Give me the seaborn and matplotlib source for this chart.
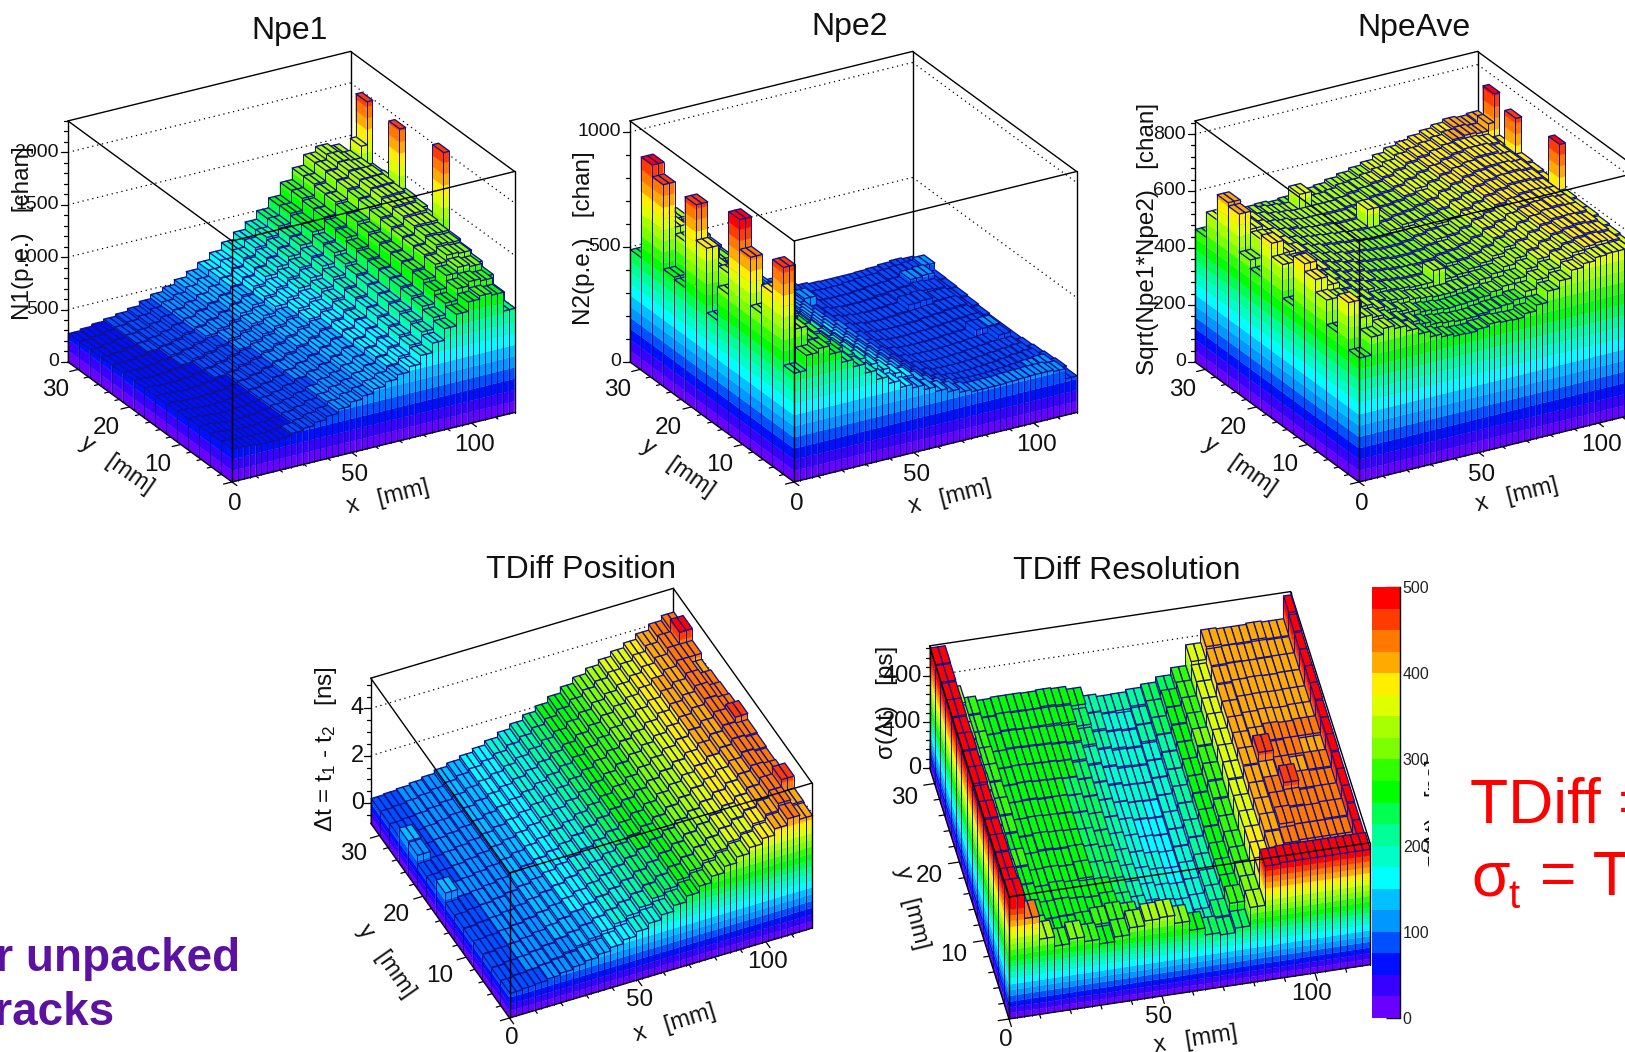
import numpy as np
import matplotlib
matplotlib.use("Agg")
import matplotlib.pyplot as plt
import seaborn as sns
from matplotlib.colors import ListedColormap
from matplotlib.lines import Line2D
from matplotlib.transforms import Bbox, IdentityTransform
from mpl_toolkits.mplot3d import proj3d
from mpl_toolkits.mplot3d.art3d import Line3DCollection, Poly3DCollection

W, H = 1625, 1052
XMAX, YMAX = 118.0, 32.0
NAVY = "#10108a"

BAND_COLORS = ["#6a00ff", "#3800ff", "#0010ff", "#0050ff", "#0098ff", "#00c0ff", "#00ffff", "#00ffc8",
               "#00ff96", "#00ff50", "#00ff00", "#30ff00", "#7cff00", "#a8ff00", "#dfff00", "#ffee00",
               "#ffaa00", "#ff7800", "#ff3c00", "#ff0000"]

# rows run from y=0 (front) to y=32 (back), one value per 2 x bins
NPE1 = [
    [320,310,300,300,310,330,350,380,410,450,490,520,560,600,640,690,770,860,970,1080,1170,1200,1180,1000],
    [315,305,295,295,305,320,345,370,405,440,480,515,555,600,650,710,790,890,1000,1110,1220,1260,1240,1080],
    [310,300,290,290,300,315,340,365,400,435,475,510,555,605,660,725,810,910,1030,1150,1270,1320,1300,1170],
    [305,295,285,285,295,310,335,360,395,430,470,510,555,610,670,740,825,930,1050,1180,1300,1360,1350,1220],
    [300,290,280,285,295,310,335,360,395,435,475,515,565,620,680,750,840,945,1065,1195,1315,1380,1370,1250],
    [295,285,280,285,295,315,340,365,400,440,480,525,575,630,690,760,850,955,1075,1205,1325,1395,1390,1280],
    [290,285,280,285,300,320,345,375,410,450,495,540,590,645,705,775,865,965,1085,1215,1335,1410,1410,1310],
    [290,280,280,290,305,330,355,390,425,465,510,555,610,665,725,795,880,980,1100,1230,1350,1425,1430,1340],
    [285,280,285,295,315,340,370,405,440,485,530,575,630,690,750,820,905,1005,1120,1250,1365,1440,1445,1365],
    [285,280,290,305,325,355,385,420,460,505,550,600,660,715,780,850,935,1035,1150,1275,1385,1455,1460,1380],
    [280,285,295,315,340,365,400,440,480,525,575,625,680,735,800,870,950,1050,1165,1290,1395,1465,1470,1390],
    [280,285,305,325,350,380,415,450,490,535,585,640,700,765,830,900,980,1080,1195,1310,1410,1470,1475,1400],
    [275,290,310,330,350,380,420,455,500,545,595,650,710,775,840,910,990,1085,1200,1315,1420,1480,1470,1390],
    [275,290,310,330,350,380,420,460,500,545,595,655,720,790,860,930,1010,1105,1220,1330,1430,1485,1465,1370],
    [275,290,310,330,350,375,415,455,495,540,590,650,715,785,855,925,1005,1100,1220,1330,1430,1480,1450,1350],
]
NPE1_SPIKES = [(6, 47, 2040), (10, 47, 1960), (13, 47, 1990), (13, 46, 1580)]
NPE2 = [
    [475,540,557,520,472,440,400,360,330,300,285,265,245,230,215,205,205,205,208,210,212,212,205,161],
    [900,620,560,530,490,450,420,385,350,320,295,265,235,210,195,185,180,180,182,185,190,195,200,170],
    [755,600,560,540,490,450,420,385,345,315,285,255,225,195,180,170,165,165,168,172,178,185,190,165],
    [630,640,570,520,480,445,415,380,340,310,280,250,215,190,170,160,158,158,160,165,170,175,180,160],
    [840,600,580,530,490,440,410,375,335,305,275,240,210,180,165,155,152,152,155,160,165,170,172,155],
    [969,660,590,540,500,450,410,370,330,300,270,235,205,175,160,152,150,150,152,155,160,165,190,150],
    [608,620,610,560,500,450,405,365,325,295,265,230,200,172,158,150,148,148,150,155,158,190,195,150],
    [460,650,620,570,510,450,405,365,325,292,260,227,197,170,158,150,148,150,152,155,160,165,170,150],
    [740,640,620,580,515,455,410,365,325,290,258,225,195,170,158,152,150,150,152,158,162,168,170,155],
    [894,680,630,590,520,460,410,365,323,290,255,225,195,170,160,152,150,152,155,160,165,172,175,160],
    [500,640,640,590,525,460,410,365,320,288,255,223,193,170,160,155,152,155,160,185,190,175,175,165],
    [510,650,640,600,530,465,415,365,320,285,252,220,190,170,160,155,155,158,162,170,175,185,180,168],
    [877,680,660,610,535,470,415,365,320,285,252,220,230,170,160,158,158,162,168,172,178,200,205,170],
    [928,700,670,610,540,470,415,365,315,282,250,220,193,172,162,160,160,165,170,172,180,185,190,200],
    [490,600,640,600,530,460,405,355,310,275,245,215,185,168,158,152,150,150,150,152,155,160,165,160],
]
NPE2_SPIKES = []
NPE_AVE = [
    [437,500,520,510,491,470,450,440,432,430,436,444,440,438,450,470,509,535,562,575,586,590,590,560],
    [603,540,530,510,495,480,465,455,450,445,445,450,455,460,470,490,520,545,570,585,595,600,595,570],
    [470,560,540,520,505,490,480,470,465,460,462,465,470,480,490,505,530,555,575,590,600,605,600,575],
    [556,550,540,525,510,500,495,485,480,475,475,480,485,495,505,520,540,560,580,595,605,610,605,580],
    [600,570,545,530,520,510,500,495,490,490,530,490,495,505,515,530,550,565,585,600,610,610,610,585],
    [627,560,550,535,525,515,505,500,495,495,490,495,505,510,520,535,555,570,590,600,610,615,610,585],
    [450,575,555,540,530,520,510,505,500,495,495,500,510,515,525,540,560,575,590,605,610,615,610,590],
    [568,560,555,545,535,525,515,510,505,500,500,505,515,525,530,545,565,580,595,605,615,615,610,590],
    [615,570,560,545,535,525,520,515,510,505,505,510,520,530,540,550,570,585,600,610,620,620,615,595],
    [470,555,555,545,535,530,525,520,515,510,510,520,530,535,545,555,575,590,605,615,620,625,620,600],
    [500,560,555,545,535,530,525,520,515,515,575,525,535,540,550,560,580,595,610,620,625,625,620,605],
    [633,570,555,545,540,530,525,525,520,520,525,530,540,545,555,570,585,600,610,620,630,630,620,605],
    [645,575,555,545,535,530,525,525,525,525,530,535,545,550,560,575,590,600,615,625,630,630,625,610],
    [556,600,550,540,530,525,520,575,525,525,530,540,545,555,565,580,595,605,615,625,635,640,635,620],
    [467,470,480,490,500,505,500,505,515,515,520,530,540,550,560,575,590,600,610,620,630,640,635,640],
]
NPE_AVE_SPIKES = [(7, 47, 751), (11, 47, 730), (13, 47, 760), (13, 46, 660)]
TDIFF_POS = [
    [.20,.24,.28,.34,.42,.52,.62,.74,.88,1.04,1.22,1.42,1.62,1.86,2.10,2.36,2.62,2.88,3.12,3.36,3.58,3.84,4.10,3.93],
    [.18,.26,.30,.36,.46,.58,.70,.84,1.00,1.16,1.34,1.54,1.76,1.98,2.22,2.46,2.72,2.96,3.20,3.42,3.66,3.90,4.20,4.00],
    [.20,.26,.30,.38,.48,.60,.72,.86,1.02,1.18,1.36,1.56,1.78,2.00,2.24,2.48,2.74,2.98,3.22,3.46,3.70,3.92,4.20,4.50],
    [.22,.26,.32,.38,.48,.60,.74,.88,1.04,1.20,1.38,1.58,1.80,2.02,2.26,2.50,2.76,3.00,3.24,3.48,3.72,3.94,4.15,4.10],
    [.20,.26,.32,.40,.50,.62,.74,.88,1.04,1.20,1.40,1.60,1.82,2.04,2.28,2.52,2.78,3.02,3.26,3.50,3.74,3.96,4.15,4.05],
    [.22,.28,.32,.40,.50,.62,.76,.90,1.06,1.22,1.40,1.60,1.82,2.06,2.30,2.54,2.80,3.04,3.28,3.50,3.74,3.96,4.18,4.10],
    [.20,.28,.34,.42,.52,.64,.76,.90,1.06,1.24,1.42,1.62,1.84,2.06,2.30,2.54,2.80,3.04,3.28,3.52,3.76,3.98,4.20,4.15],
    [.60,.30,.34,.42,.52,.64,.78,.92,1.08,1.24,1.44,1.64,1.86,2.08,2.32,2.56,2.82,3.06,3.30,3.52,3.76,4.00,4.22,4.40],
    [.22,.28,.34,.42,.52,.64,.78,.92,1.08,1.26,1.44,1.64,1.86,2.08,2.32,2.56,2.82,3.06,3.30,3.54,3.78,4.00,4.22,4.15],
    [.20,.28,.34,.42,.52,.64,.78,.92,1.08,1.26,1.44,1.64,1.86,2.08,2.32,2.58,2.82,3.06,3.30,3.54,3.78,4.00,4.24,4.10],
    [.55,.28,.34,.42,.52,.64,.78,.92,1.08,1.24,1.44,1.64,1.86,2.08,2.32,2.58,2.84,3.06,3.30,3.54,3.78,4.00,4.22,4.05],
    [.60,.28,.34,.42,.52,.64,.78,.92,1.08,1.24,1.44,1.64,1.86,2.08,2.32,2.56,2.82,3.06,3.28,3.52,3.76,3.98,4.20,3.95],
    [.24,.28,.32,.40,.50,.64,.78,.92,1.06,1.24,1.44,1.64,1.86,2.08,2.32,2.56,2.82,3.04,3.26,3.48,3.72,3.94,4.20,4.20],
    [.22,.26,.32,.40,.50,.62,.76,.90,1.06,1.22,1.42,1.62,1.84,2.06,2.30,2.56,2.80,3.02,3.24,3.44,3.66,3.90,4.18,4.70],
    [.21,.25,.30,.38,.48,.62,.76,.90,1.05,1.22,1.42,1.62,1.84,2.06,2.30,2.55,2.80,3.02,3.22,3.42,3.62,3.85,4.10,4.30],
]
TDIFF_POS_SPIKES = []
TDIFF_RES = [
    [534,430,330,290,310,290,270,290,320,340,345,310,270,240,230,250,330,500,505,505,505,505,505,505],
    [510,310,280,260,262,268,280,290,280,250,215,195,190,205,235,285,320,390,425,435,440,440,440,490],
    [505,315,275,262,265,258,252,262,250,225,200,190,185,195,225,262,310,385,420,430,435,435,435,490],
    [510,310,272,255,265,258,252,252,242,218,198,185,180,190,220,258,300,380,425,445,435,435,440,495],
    [505,315,275,255,258,252,262,250,238,215,195,180,175,190,215,255,295,375,420,435,440,430,435,495],
    [510,310,280,252,255,252,258,248,235,210,190,178,172,185,215,252,290,370,415,430,470,435,430,495],
    [505,315,275,252,260,256,252,248,230,208,190,175,170,188,218,255,290,365,415,425,435,425,435,500],
    [515,320,280,255,258,255,252,245,232,206,188,175,172,190,218,252,295,370,420,465,430,435,425,500],
    [510,320,285,255,256,252,254,248,232,208,188,178,175,190,220,255,300,370,415,425,435,430,435,500],
    [515,325,280,256,260,256,254,250,235,210,190,180,178,192,220,256,300,365,410,420,425,420,425,505],
    [510,320,285,258,262,258,256,252,238,214,195,182,180,195,222,256,305,360,405,418,420,418,420,505],
    [515,325,285,260,262,260,258,254,245,220,200,188,185,198,225,258,300,355,405,415,418,415,418,505],
    [515,330,280,260,266,264,262,258,252,228,205,195,190,205,228,262,295,355,410,415,415,415,418,505],
    [520,330,280,262,270,266,266,266,262,240,212,200,195,208,228,264,290,355,415,418,415,418,415,510],
    [524,340,285,265,270,270,268,272,268,255,215,204,205,215,228,250,280,370,425,420,420,425,420,519],
]
TDIFF_RES_SPIKES = [(r, 46, v) for r, v in enumerate([505, 440, 435, 440, 435, 430, 435, 425, 435, 425, 420, 418, 418, 415, 420])]

TITLES = ["Npe1", "Npe2", "NpeAve", "TDiff Position", "TDiff Resolution"]
Z_TITLES = ["N1(p.e.)   [chan]", "N2(p.e.)   [chan]", "Sqrt(Npe1*Npe2)   [chan]",
            r"$\Delta$t = t$_1$ - t$_2$   [ns]", "σ(Δt)   [ps]"]
Z_TICKS = [[0, 500, 1000, 1500, 2000], [0, 500, 1000], [0, 200, 400, 600, 800], [0, 2, 4], [0, 200, 400]]
Z_MINOR = [100, 100, 40, 0.5, 40]
Z_RANGES = [(0, 2300), (0, 1048), (0, 846), (-0.86, 5.28), (0, 531)]
COLOR_RANGES = [(0, 2150), (0, 970), (0, 790), (-0.86, 4.9), (0, 500)]
CBAR_TICKS = [0, 100, 200, 300, 400, 500]

sns.set_theme(style="white")
plt.rcParams["font.family"] = ["Liberation Sans", "DejaVu Sans"]
plt.rcParams["mathtext.default"] = "regular"
PALETTE = sns.color_palette(BAND_COLORS)

# geometry of each box in pixels, from the top left of the picture
LAYOUT = [
    dict(elev=25.1, azim=-120.1, box=(326.5, 327, 266), front=(232, 482), x_end=(514.5, 412),
         title=(290, 31), x_title=(388, 497), y_title=(117, 465), z_title=(23, 233),
         x_off=(3, 22), y_off=(-23, 21), z_off=-9, z_size=14, tick_size=17.5),
    dict(elev=25.1, azim=-120.1, box=(326.5, 327, 266), front=(794, 482), x_end=(1076.5, 412),
         title=(850, 27), x_title=(950, 497), y_title=(678, 468), z_title=(584, 238),
         x_off=(3, 22), y_off=(-23, 21), z_off=-9, z_size=14, tick_size=17.5),
    dict(elev=25.1, azim=-120.1, box=(326.5, 327, 266), front=(1359, 482), x_end=(1641.5, 412),
         title=(1414, 28), x_title=(1517, 495), y_title=(1240, 466), z_title=(1148, 239),
         x_off=(3, 22), y_off=(-23, 21), z_off=-9, z_size=14, tick_size=17.5),
    dict(elev=40.2, azim=-114.7, box=(333, 332, 190), front=(509.5, 1018), x_end=(812, 928),
         title=(581, 570), x_title=(675, 1023), y_title=(386, 961), z_title=(326, 749),
         x_off=(2, 20), y_off=(-26, 19), z_off=-7, z_size=17, tick_size=17.5),
    dict(elev=43.6, azim=-102.3, box=(369.5, 372.8, 168.5), front=(1009, 1019), x_end=(1370, 965),
         title=(1127, 571), x_title=(1196, 1040), y_title=(912, 908), z_title=(887, 702),
         x_off=(-3, 21), y_off=(-30, 14), z_off=-8, z_size=17, tick_size=17.5),
]
X_ROT = [14, 14, 14, 17, 9]
Y_ROT = [-35, -35, -35, -55, -76]

fig = plt.figure(figsize=(W / 100, H / 100), dpi=100, facecolor="white")
pixel = IdentityTransform()


def put_text(x, y, s, **kw):
    kw.setdefault("ha", "center")
    kw.setdefault("va", "center")
    return fig.text(x, H - y, s, transform=pixel, color=kw.pop("color", "#111111"), **kw)


def put_line(x0, y0, x1, y1, lw=0.9):
    fig.add_artist(Line2D([x0, x1], [H - y0, H - y1], transform=pixel, color="black", lw=lw))


def to_pixels(ax, x, y, z):
    px, py, _ = proj3d.proj_transform(x, y, z, ax.get_proj())
    dx, dy = ax.transData.transform((px, py))
    return dx, H - dy


def fit_box(ax, z0, front, x_end):
    # resize and move the axes until the box corners land on the wanted pixels
    target = np.hypot(x_end[0] - front[0], x_end[1] - front[1])
    for _ in range(3):
        fig.canvas.draw()
        f = np.array(to_pixels(ax, 0, 0, z0))
        e = np.array(to_pixels(ax, XMAX, 0, z0))
        scale = target / np.hypot(*(e - f))
        p = ax.get_position()
        w, h = p.width * scale, p.height * scale
        ax.set_position([p.x0, p.y0, w, h])
        fig.canvas.draw()
        f = np.array(to_pixels(ax, 0, 0, z0))
        p = ax.get_position()
        ax.set_position([p.x0 + (front[0] - f[0]) / W, p.y0 - (front[1] - f[1]) / H, p.width, p.height])
    fig.canvas.draw()


def draw_columns(ax, values, zlo, edges):
    nx, ny = values.shape[1], values.shape[0]
    xe = np.linspace(0, XMAX, nx + 1)
    ye = np.linspace(0, YMAX, ny + 1)
    order = 10
    for i in range(nx - 1, -1, -1):
        for j in range(ny - 1, -1, -1):
            h = values[j, i]
            x0, x1, y0, y1 = xe[i], xe[i + 1], ye[j], ye[j + 1]
            left_from = values[j, i - 1] if i > 0 else zlo
            front_from = values[j - 1, i] if j > 0 else zlo
            polys, cols = [], []
            for start, corners in ((left_from, ((x0, y0), (x0, y1))), (front_from, ((x0, y0), (x1, y0)))):
                if h <= start:
                    continue
                for b in range(20):
                    lo = max(start, edges[b]) if b > 0 else start
                    hi = min(h, edges[b + 1]) if b < 19 else h
                    if hi <= lo:
                        continue
                    (ax0, ay0), (ax1, ay1) = corners
                    polys.append([(ax0, ay0, lo), (ax1, ay1, lo), (ax1, ay1, hi), (ax0, ay0, hi)])
                    cols.append(PALETTE[b])
            top_band = int(np.clip(np.searchsorted(edges, h) - 1, 0, 19))
            walls = Poly3DCollection(polys, facecolors=cols, edgecolors=cols, linewidths=0.2) if polys else None
            if walls is not None:
                walls.set_zorder(order)
                ax.add_collection3d(walls, autolim=False)
            top = Poly3DCollection([[(x0, y0, h), (x1, y0, h), (x1, y1, h), (x0, y1, h)]],
                                   facecolors=[PALETTE[top_band]], edgecolors=NAVY, linewidths=0.95)
            top.set_zorder(order + 1)
            ax.add_collection3d(top, autolim=False)
            segs = []
            low = min(left_from, front_from)
            if h > low:
                segs.append([(x0, y0, low), (x0, y0, h)])
            if h > left_from:
                segs.append([(x0, y1, left_from), (x0, y1, h)])
            if h > front_from:
                segs.append([(x1, y0, front_from), (x1, y0, h)])
            if segs:
                lines = Line3DCollection(segs, colors=NAVY, linewidths=0.7)
                lines.set_zorder(order + 2)
                ax.add_collection3d(lines, autolim=False)
            order += 3
    return order


def draw_panel(values, spikes, n):
    cfg = LAYOUT[n]
    z0, z1 = Z_RANGES[n]
    edges = np.linspace(COLOR_RANGES[n][0], COLOR_RANGES[n][1], 21)
    ax = fig.add_axes([0.1, 0.1, 0.5, 0.5 * W / H], projection="3d", proj_type="ortho", computed_zorder=False)
    ax.set_xlim(0, XMAX)
    ax.set_ylim(0, YMAX)
    ax.set_zlim(z0, z1)
    ax.set_box_aspect(cfg["box"])
    ax.view_init(elev=cfg["elev"], azim=cfg["azim"])
    ax.set_axis_off()
    fit_box(ax, z0, cfg["front"], cfg["x_end"])

    # back of the box with its dotted grid
    for z in Z_TICKS[n]:
        if z == 0 and z0 == 0:
            continue
        ax.plot([0, XMAX], [YMAX, YMAX], [z, z], color="black", ls=(0, (1, 3)), lw=0.9, zorder=2)
        ax.plot([XMAX, XMAX], [YMAX, 0], [z, z], color="black", ls=(0, (1, 3)), lw=0.9, zorder=2)
    for xs, ys, zs in (([0, XMAX], [YMAX, YMAX], [z1, z1]), ([XMAX, XMAX], [YMAX, 0], [z1, z1]),
                       ([XMAX, XMAX], [YMAX, YMAX], [z0, z1])):
        ax.plot(xs, ys, zs, color="black", lw=1.0, zorder=3)

    bins = np.repeat(np.array(values, dtype=float), 2, axis=1)
    for row, xbin, v in spikes:
        bins[row, xbin] = v
    top_order = draw_columns(ax, bins, z0, edges)

    # lines of the box that ROOT draws over the bars
    for xs, ys, zs in (([0, XMAX], [0, 0], [z1, z1]), ([0, 0], [0, YMAX], [z1, z1]),
                       ([0, 0], [0, 0], [z0, z1]), ([XMAX, XMAX], [0, 0], [z0, z1]),
                       ([0, 0], [YMAX, YMAX], [z0, z1]), ([0, XMAX], [0, 0], [z0, z0]),
                       ([0, 0], [0, YMAX], [z0, z0])):
        ax.plot(xs, ys, zs, color="black", lw=1.0, zorder=top_order)

    # ticks
    for xt in np.arange(0, 111, 10):
        a = to_pixels(ax, xt, 0, z0)
        b = to_pixels(ax, xt, -YMAX * (0.03 if xt % 50 == 0 else 0.015), z0)
        put_line(a[0], a[1], b[0], b[1])
    for yt in np.arange(0, 31, 2):
        a = to_pixels(ax, 0, yt, z0)
        b = to_pixels(ax, -XMAX * (0.03 if yt % 10 == 0 else 0.015), yt, z0)
        put_line(a[0], a[1], b[0], b[1])
    step = Z_MINOR[n]
    for zt in np.arange(np.ceil(z0 / step) * step, z1 + 1e-6, step):
        a = to_pixels(ax, 0, YMAX, zt)
        major = any(abs(zt - m) < 1e-6 for m in Z_TICKS[n])
        put_line(a[0], a[1], a[0] - (7 if major else 4), a[1])

    # texts
    for xt in (0, 50, 100):
        a = to_pixels(ax, xt, 0, z0)
        put_text(a[0] + cfg["x_off"][0], a[1] + cfg["x_off"][1], str(xt), fontsize=cfg["tick_size"])
    for yt in (10, 20, 30):
        a = to_pixels(ax, 0, yt, z0)
        put_text(a[0] + cfg["y_off"][0], a[1] + cfg["y_off"][1], str(yt), fontsize=cfg["tick_size"])
    for zt in Z_TICKS[n]:
        a = to_pixels(ax, 0, YMAX, zt)
        put_text(a[0] + cfg["z_off"], a[1], str(zt), ha="right", fontsize=cfg["z_size"])
    put_text(*cfg["title"], TITLES[n], fontsize=23)
    put_text(*cfg["x_title"], "x   [mm]", fontsize=17, rotation=X_ROT[n], rotation_mode="anchor")
    put_text(*cfg["y_title"], "y   [mm]", fontsize=17, rotation=Y_ROT[n], rotation_mode="anchor")
    put_text(*cfg["z_title"], Z_TITLES[n], fontsize=17.5, rotation=90, rotation_mode="anchor")


for n, (values, spikes) in enumerate([(NPE1, NPE1_SPIKES), (NPE2, NPE2_SPIKES), (NPE_AVE, NPE_AVE_SPIKES),
                                      (TDIFF_POS, TDIFF_POS_SPIKES), (TDIFF_RES, TDIFF_RES_SPIKES)]):
    draw_panel(values, spikes, n)

# colour bar of the resolution panel
cax = fig.add_axes([1372 / W, 1 - 1018 / H, 28 / W, 431 / H])
sns.heatmap(np.arange(20)[:, None], cmap=ListedColormap(PALETTE), cbar=False, ax=cax,
            xticklabels=False, yticklabels=False)
cax.set_ylim(0, 20)
cax.yaxis.tick_right()
cax.set_yticks(np.array(CBAR_TICKS) / 25, [str(t) for t in CBAR_TICKS], fontsize=11.5, color="#222222")
cax.tick_params(axis="y", direction="in", length=10, width=1, pad=2, right=True, color="black")
for side, spine in cax.spines.items():
    spine.set_visible(side == "right")
    spine.set_color("black")
    spine.set_linewidth(1)
cut = put_text(1436, 815, "σ(Δt)   [ps]", fontsize=17, rotation=90)
cut.set_clip_box(Bbox([[1420, H - 900], [1429, H - 700]]))
cut.set_clip_on(True)

# slide text around the plots, cut by the picture edge
RED = "#ff0000"
PURPLE = "#5b12a0"
put_text(1470, 823, "TDiff =", ha="left", va="baseline", fontsize=45, color=RED)
put_text(1471, 895, "σ", ha="left", va="baseline", fontsize=45, color=RED)
put_text(1508, 908, "t", ha="left", va="baseline", fontsize=29, color=RED)
put_text(1540, 895, "= T", ha="left", va="baseline", fontsize=45, color=RED)
put_text(240, 971, "for unpacked", ha="right", va="baseline", fontsize=33, fontweight="bold", color=PURPLE)
put_text(115, 1025, "tracks", ha="right", va="baseline", fontsize=33, fontweight="bold", color=PURPLE)

fig.savefig("out.png", dpi=100)
